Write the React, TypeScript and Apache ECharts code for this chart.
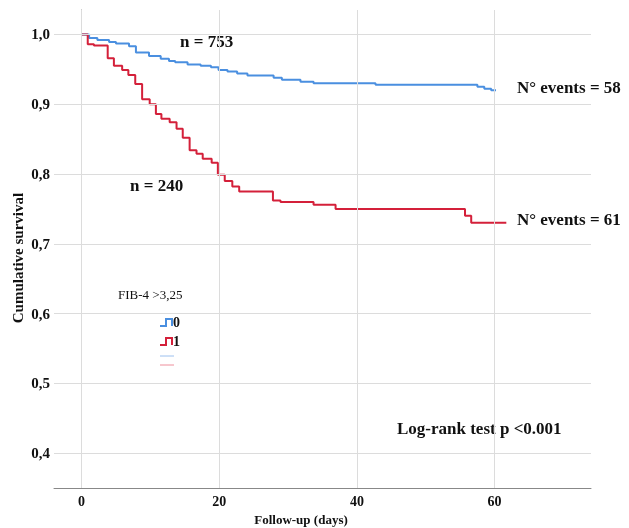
import React, { useEffect, useRef } from 'react';
import * as echarts from 'echarts';

// Kaplan-Meier steps: [day, survival from that day on]
const groupZero: number[][] = [
    [0, 1.0], [1.1, 0.995], [2.3, 0.992], [4, 0.989], [5, 0.987], [6.9, 0.983],
    [7.9, 0.974], [9.8, 0.969], [11.5, 0.965], [12.7, 0.962], [13.6, 0.96],
    [15.4, 0.957], [17.3, 0.955], [18.8, 0.953], [19.9, 0.949], [21.2, 0.947],
    [22.6, 0.944], [24.1, 0.941], [27.9, 0.938], [29.1, 0.935], [31.8, 0.932],
    [33.7, 0.930], [42.7, 0.928], [57.5, 0.925], [58.5, 0.922], [59.5, 0.920], [60.2, 0.920],
];
const groupOne: number[][] = [
    [0, 1.0], [0.9, 0.986], [1.8, 0.984], [3.8, 0.966], [4.7, 0.955], [5.9, 0.949],
    [6.8, 0.942], [7.8, 0.929], [8.8, 0.907], [9.9, 0.9], [10.8, 0.886], [11.6, 0.879],
    [12.8, 0.874], [13.8, 0.865], [14.7, 0.852], [15.7, 0.834], [16.7, 0.829],
    [17.6, 0.822], [18.9, 0.816], [19.8, 0.799], [20.8, 0.79], [21.9, 0.782],
    [22.9, 0.775], [27.8, 0.762], [28.9, 0.76], [33.7, 0.756], [36.9, 0.75],
    [55.7, 0.74], [56.6, 0.73], [61.7, 0.73],
];
const xTicks = [0, 20, 40, 60];
const yTicks = [0.4, 0.5, 0.6, 0.7, 0.8, 0.9, 1.0];
const seriesNames = ['0', '1'];
const colors = ['#4a8fe0', '#d4203a'];

const FONT = '"Liberation Serif", "Times New Roman", serif';

const App: React.FC = () => {
    const chartRef = useRef<HTMLDivElement>(null);

    useEffect(() => {
        const chart = echarts.init(chartRef.current!, undefined, { renderer: 'svg' });
        const gridLine = { color: '#dcdcdc', width: 1, type: 'solid' as const };
        const options: echarts.EChartsOption = {
            animation: false,
            textStyle: { fontFamily: FONT },
            grid: { left: 54, top: 10, right: 38, bottom: 40, outerBoundsMode: 'none' } as any,
            xAxis: {
                type: 'value',
                min: -4,
                max: 74,
                interval: 2,
                axisLine: { lineStyle: { color: '#888' } },
                axisTick: { show: false },
                splitLine: { show: false },
                axisLabel: {
                    fontFamily: FONT, fontWeight: 'bold', fontSize: 14, color: '#111', margin: 6,
                    formatter: (v: number) => (xTicks.includes(Math.round(v)) && Math.abs(v - Math.round(v)) < 1e-6 ? String(Math.round(v)) : ''),
                },
            },
            yAxis: {
                type: 'value',
                min: 0.35,
                max: 1.035,
                interval: 0.05,
                axisLine: { show: true, lineStyle: { color: '#888' } },
                axisTick: { show: false },
                splitLine: { show: false },
                axisLabel: {
                    fontFamily: FONT, fontWeight: 'bold', fontSize: 15, color: '#111', margin: 4,
                    formatter: (v: number) => {
                        const r = Math.round(v * 100);
                        if (r % 10 !== 0 || r < 40 || r > 100) return '';
                        return (r / 100).toFixed(1).replace('.', ',');
                    },
                },
            },
            series: [
                {
                    type: 'line',
                    silent: true,
                    data: [],
                    markLine: {
                        symbol: 'none',
                        silent: true,
                        label: { show: false },
                        lineStyle: gridLine,
                        data: [
                            ...xTicks.map(x => ({ xAxis: x })),
                            ...yTicks.map(y => [{ coord: [-4, y] }, { coord: [74, y] }]),
                        ] as any,
                    },
                },
                ...[groupZero, groupOne].map((d, i) => ({
                    name: seriesNames[i],
                    type: 'line' as const,
                    step: 'end' as const,
                    data: d,
                    showSymbol: false,
                    lineStyle: { color: colors[i], width: 2 },
                    z: 3,
                })),
            ],
            graphic: [
                { type: 'text', x: 18, y: 258, rotation: Math.PI / 2, style: { text: 'Cumulative survival', font: `bold 15px ${FONT}`, fill: '#111', align: 'center', verticalAlign: 'middle' } },
                { type: 'text', x: 301, y: 519, style: { text: 'Follow-up (days)', font: `bold 13px ${FONT}`, fill: '#111', align: 'center', verticalAlign: 'middle' } },
                { type: 'text', left: 180, top: 33, style: { text: 'n = 753', font: `bold 17px ${FONT}`, fill: '#111' } },
                { type: 'text', left: 130, top: 177, style: { text: 'n = 240', font: `bold 17px ${FONT}`, fill: '#111' } },
                { type: 'text', left: 517, top: 79, style: { text: 'N° events = 58', font: `bold 17px ${FONT}`, fill: '#111' } },
                { type: 'text', left: 517, top: 211, style: { text: 'N° events = 61', font: `bold 17px ${FONT}`, fill: '#111' } },
                { type: 'text', left: 397, top: 420, style: { text: 'Log-rank test p <0.001', font: `bold 17px ${FONT}`, fill: '#111' } },
                { type: 'text', left: 118, top: 288, style: { text: 'FIB-4 >3,25', font: `13px ${FONT}`, fill: '#111' } },
                { type: 'polyline', shape: { points: [[160, 326], [166, 326], [166, 319], [172, 319], [172, 326]] }, style: { stroke: colors[0], lineWidth: 2, fill: 'none' } },
                { type: 'text', left: 173, top: 315, style: { text: '0', font: `bold 14px ${FONT}`, fill: '#111' } },
                { type: 'polyline', shape: { points: [[160, 345], [166, 345], [166, 338], [172, 338], [172, 345]] }, style: { stroke: colors[1], lineWidth: 2, fill: 'none' } },
                { type: 'text', left: 173, top: 334, style: { text: '1', font: `bold 14px ${FONT}`, fill: '#111' } },
                { type: 'line', shape: { x1: 160, y1: 356, x2: 174, y2: 356 }, style: { stroke: '#9cc0ee', lineWidth: 1 } },
                { type: 'line', shape: { x1: 160, y1: 365, x2: 174, y2: 365 }, style: { stroke: '#ee8f9c', lineWidth: 1 } },
            ],
        };
        chart.setOption(options);
        return () => {
            chart.dispose();
        };
    }, []);

    return <div ref={chartRef} style={{ width: 629, height: 528, position: 'fixed', left: 0, top: 0 }} />;
};

export default App;
